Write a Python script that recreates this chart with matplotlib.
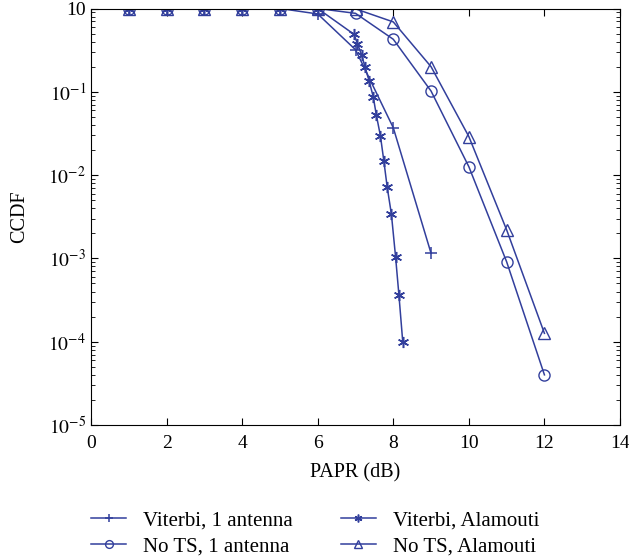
import math
import matplotlib.pyplot as plt
from matplotlib.ticker import FixedLocator, FuncFormatter, LogLocator, NullFormatter

plt.rcParams['font.family'] = ['Liberation Serif', 'DejaVu Serif']
plt.rcParams['mathtext.fontset'] = 'stix'

# Data
x_vit1 = [1, 2, 3, 4, 5, 6, 7, 8, 9]
y_vit1 = [1, 1, 1, 1, 1, 0.86, 0.32, 0.037, 1.15e-3]

x_vitA = [1, 2, 3, 4, 5, 6, 6.96, 7.05, 7.16, 7.25, 7.36, 7.47, 7.55, 7.66,
          7.75, 7.84, 7.95, 8.06, 8.15, 8.25]
y_vitA = [1, 1, 1, 1, 1, 1, 0.49, 0.38, 0.28, 0.2, 0.135, 0.087, 0.053, 0.0295,
          0.0148, 0.0071, 0.0034, 1.05e-3, 3.6e-4, 1.0e-4]

x_nots1 = [1, 2, 3, 4, 5, 6, 7, 8, 9, 10, 11, 12]
y_nots1 = [1, 1, 1, 1, 1, 1, 0.875, 0.427, 0.102, 0.0126, 9.1e-4, 4.0e-5]

x_notsA = [1, 2, 3, 4, 5, 6, 7, 8, 9, 10, 11, 12]
y_notsA = [1, 1, 1, 1, 1, 1, 0.99, 0.69, 0.20, 0.029, 0.0022, 1.26e-4]

col = '#323f9c'

fig = plt.figure(figsize=(6.29, 5.60), dpi=100)
ax = fig.add_axes([91 / 629, 135 / 560, 529 / 629, 416.5 / 560])

ax.plot(x_vit1, y_vit1, color=col, lw=1.1, marker='+', ms=9, mew=1.1,
        label='Viterbi, 1 antenna')
ax.plot(x_nots1, y_nots1, color=col, lw=1.1, marker='o', ms=8, mfc='none', mew=1.0,
        label='No TS, 1 antenna')
ax.plot(x_vitA, y_vitA, color=col, lw=1.1, marker=(6, 2, 0), ms=8, mew=1.1,
        label='Viterbi, Alamouti')
ax.plot(x_notsA, y_notsA, color=col, lw=1.1, marker='^', ms=9, mfc='none', mew=1.0,
        label='No TS, Alamouti')

ax.set_yscale('log')
ax.set_xlim(0, 14)
ax.set_ylim(1e-5, 1)
ax.set_xticks(range(0, 15, 2))
ax.yaxis.set_major_locator(FixedLocator([1e-5, 1e-4, 1e-3, 1e-2, 1e-1, 1]))
ax.yaxis.set_minor_locator(LogLocator(base=10, subs=range(2, 10), numticks=20))
ax.yaxis.set_minor_formatter(NullFormatter())


def fmt(v, pos):
    if v >= 0.99:
        return '10'
    return r'$10^{%d}$' % round(math.log10(v))


ax.yaxis.set_major_formatter(FuncFormatter(fmt))
ax.tick_params(which='both', direction='in', top=True, right=True, labelsize=14)
ax.tick_params(which='major', length=5)
ax.tick_params(which='minor', length=3)
ax.tick_params(axis='x', pad=7)
ax.set_xlabel('PAPR (dB)', fontsize=14.5, labelpad=8)
ax.set_ylabel('CCDF', fontsize=14.5, labelpad=14)

fig.legend(loc='upper left', bbox_to_anchor=(91 / 629, 1 - 511 / 560), ncol=2,
           frameon=False, fontsize=15, numpoints=1, handlelength=1.7,
           handletextpad=0.8, columnspacing=2.3, labelspacing=0.3,
           borderpad=0, borderaxespad=0, markerscale=0.7)

fig.savefig('out.png', dpi=100)
